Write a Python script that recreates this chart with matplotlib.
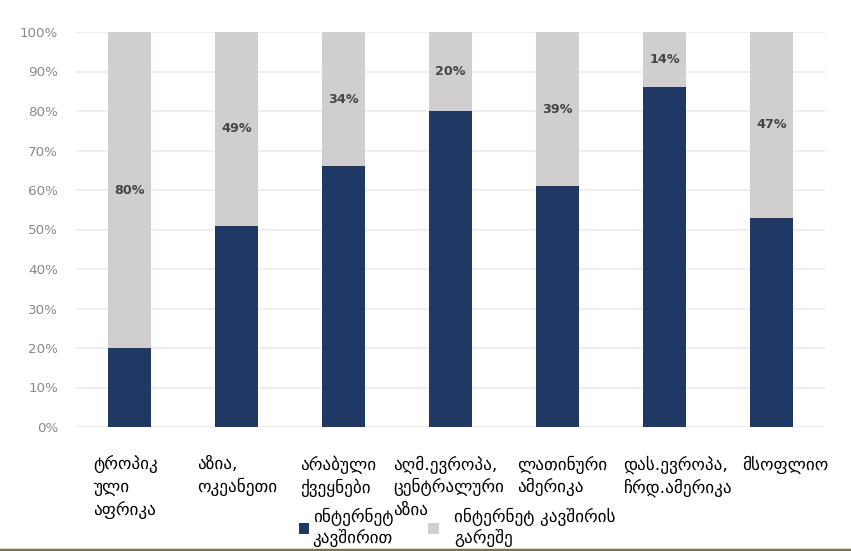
import matplotlib.pyplot as plt
from matplotlib.patches import Patch
from matplotlib.lines import Line2D
from matplotlib.transforms import ScaledTranslation
import numpy as np

# Figure: 851x551 px
fig = plt.figure(figsize=(8.51, 5.51), dpi=100)
fig.patch.set_facecolor('white')
ax = fig.add_axes([76/851, 124/551, 749/851, 395/551])

# ─── Data ───
regions = ['ტროპიკ\nული\nაფრიკა', 'აზია,\nოკეანეთი', 'არაბული\nქვეყნები',
           'აღმ.ევროპა,\nცენტრალური\nაზია', 'ლათინური\nამერიკა',
           'დას.ევროპა,\nჩრდ.ამერიკა', 'მსოფლიო']
online = [20, 51, 66, 80, 61, 86, 53]
offline = [80, 49, 34, 20, 39, 14, 47]
series_names = ['ინტერნეტ\nკავშირით', 'ინტერნეტ კავშირის\nგარეშე']

navy = '#1f3864'
light_grey = '#d0cecf'
grid_col = '#ececec'
tick_col = '#8a8a8a'
label_col = '#454545'

# left edge of each category label relative to bar centre, in pixels
label_shift_px = [-36, -39, -43, -57, -40, -41, -29]

x = np.arange(len(regions))
bar_w = 0.4

ax.bar(x, online, width=bar_w, color=navy, zorder=3)
bars_off = ax.bar(x, offline, width=bar_w, bottom=online, color=light_grey, zorder=3)

# value labels centred in the grey segment
for rect, val in zip(bars_off, offline):
    cy = rect.get_y() + rect.get_height() / 2
    ax.text(rect.get_x() + rect.get_width() / 2, cy, f'{val}%',
            ha='center', va='center', fontsize=9.2, fontweight='bold',
            color=label_col, zorder=4)

ax.set_xlim(-0.5, len(regions) - 0.5)
ax.set_ylim(0, 100)
ax.set_yticks(range(0, 101, 10))
ax.set_yticklabels([f'{v}%' for v in range(0, 101, 10)])
ax.tick_params(axis='y', length=0, pad=13, labelsize=9.7, labelcolor=tick_col)
ax.set_xticks([])
ax.yaxis.grid(True, color=grid_col, linewidth=1.2, zorder=0)
for s in ax.spines.values():
    s.set_visible(False)

# category labels, left aligned under each bar
base = ax.get_xaxis_transform()
for xi, name, sh in zip(x, regions, label_shift_px):
    tr = base + ScaledTranslation(sh / 100, 0, fig.dpi_scale_trans)
    ax.text(xi, -0.072, name, transform=tr, ha='left', va='top',
            fontsize=12.3, color='black', linespacing=1.33)

# legend, two entries placed separately as in the reference
leg1 = fig.legend([Patch(facecolor=navy, edgecolor='none')], [series_names[0]],
                  loc='upper left', bbox_to_anchor=(299/851, 1 - 508/551),
                  frameon=False, fontsize=12.3, handlelength=0.6,
                  handleheight=0.65, handletextpad=0.2, borderaxespad=0,
                  borderpad=0)
leg2 = fig.legend([Patch(facecolor=light_grey, edgecolor='none')], [series_names[1]],
                  loc='upper left', bbox_to_anchor=(428/851, 1 - 508/551),
                  frameon=False, fontsize=12.3, handlelength=0.65,
                  handleheight=0.65, handletextpad=0.9, borderaxespad=0,
                  borderpad=0)

# olive rule along the bottom edge
fig.add_artist(Line2D([0, 1], [1.5/551, 1.5/551], transform=fig.transFigure,
                      color='#787252', linewidth=2.5))

plt.savefig('out.png', dpi=100, facecolor='white')
plt.close()
